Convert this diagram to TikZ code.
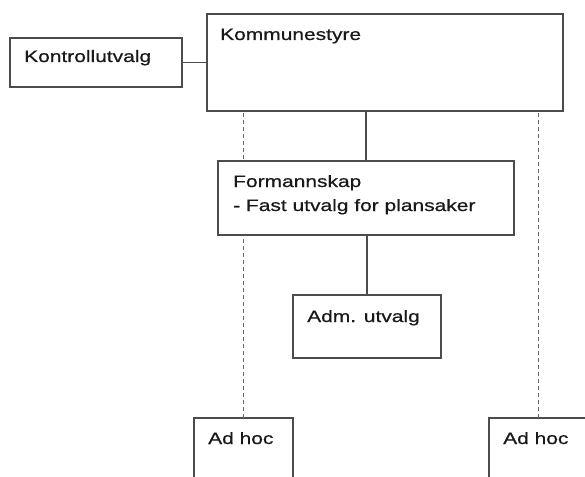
\documentclass[tikz,border=0pt]{standalone}
\usepackage{fontspec}
\newfontfamily\arialw[FakeStretch=1.27,FakeBold=0.6]{Liberation Sans}
\begin{document}
\begin{tikzpicture}[x=1pt,y=-1pt,
  box/.style={draw=black!70,line width=1.6pt,fill=white,inner sep=0pt,outer sep=0pt,anchor=north west},
  lbl/.style={inner sep=0pt,anchor=base west,font=\arialw\fontsize{16.5}{24}\selectfont,text=black!90},
  solidline/.style={draw=black!70,line width=1.6pt},
  dashline/.style={draw=black!60,line width=1.6pt,dash pattern=on 4pt off 3pt}]
\useasboundingbox (0,0) rectangle (585,476);
\clip (0,0) rectangle (585,476);
\node[box,minimum width=356pt,minimum height=97pt] (kommune) at (207,14) {};
\node[box,minimum width=99pt,minimum height=80pt] (adhocA) at (194,418) {};
\node[box,minimum width=99pt,minimum height=80pt] (adhocB) at (489,418) {};
\draw[dashline] (adhocA.north) -- (adhocA.north |- kommune.south);
\draw[dashline] (adhocB.north) -- (adhocB.north |- kommune.south);
\node[box,minimum width=172pt,minimum height=49pt] (kontroll) at (10,38) {};
\node[box,minimum width=296pt,minimum height=74pt] (forman) at (218,161) {};
\node[box,minimum width=148pt,minimum height=63pt] (adm) at (293,295) {};
\draw[solidline] (kontroll.east) -- (kontroll.east -| kommune.west);
\draw[solidline] (forman.north) -- (forman.north |- kommune.south);
\draw[solidline] (adm.north) -- (adm.north |- forman.south);
\node[lbl] (tkontroll) at (24,62) {Kontrollutvalg};
\node[lbl] (tkommune) at (220,40) {Kommunestyre};
\node[lbl] (tforman1) at (233,187) {Formannskap};
\node[lbl] (tforman2) at (233,211) {- Fast utvalg for plansaker};
\node[lbl] (tadm) at (307,322) {Adm. utvalg};
\node[lbl] (tadhocA) at (208,444) {Ad hoc};
\node[lbl] (tadhocB) at (503,444) {Ad hoc};
\end{tikzpicture}
\end{document}
